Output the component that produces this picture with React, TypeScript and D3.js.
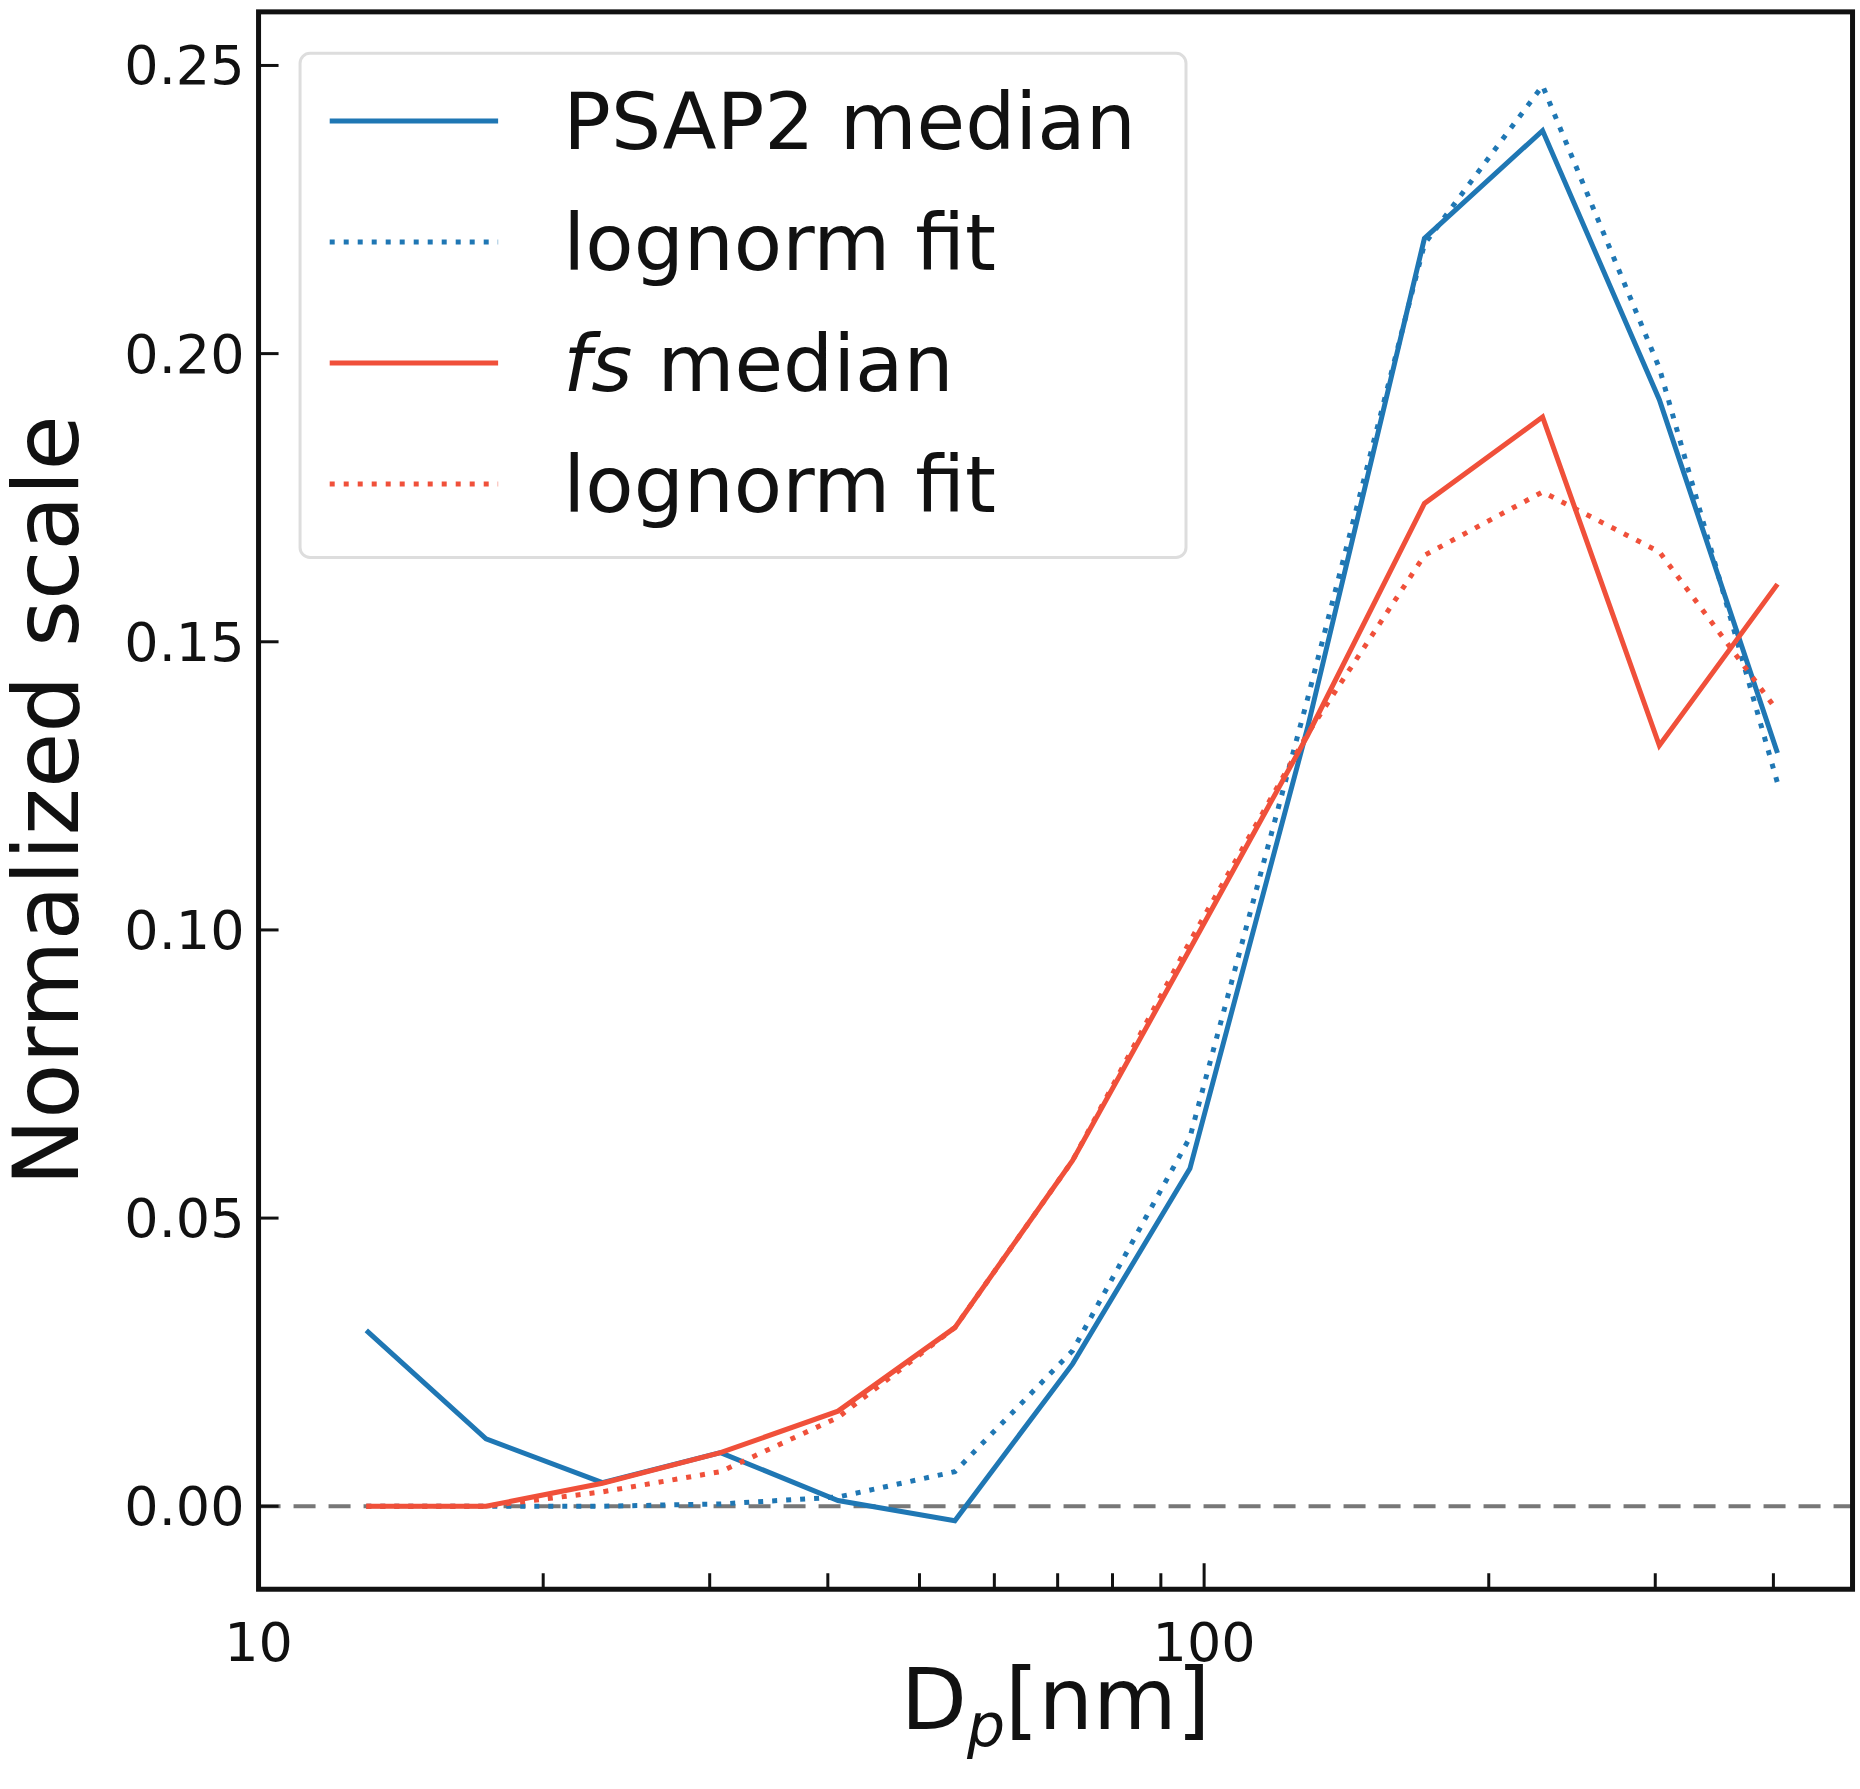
import { scaleLinear, scaleLog, line } from 'd3';

const diameters = [13.0, 17.4, 23.1, 30.8, 41.0, 54.5, 72.6, 96.6, 128.6, 171, 228, 303, 404];
const psapMedian = [0.0305, 0.0117, 0.0041, 0.0093, 0.001, -0.0025, 0.0247, 0.0586, 0.135, 0.22, 0.2387, 0.192, 0.1307];
const psapFit = [0, 0, 0, 0.0004, 0.0016, 0.006, 0.027, 0.064, 0.14, 0.219, 0.2465, 0.1975, 0.1255];
const fsMedian = [0, 0, 0.004, 0.0093, 0.0165, 0.031, 0.06, 0.0967, 0.1337, 0.174, 0.189, 0.132, 0.16];
const fsFit = [0, 0, 0.0025, 0.006, 0.0154, 0.031, 0.06, 0.098, 0.134, 0.165, 0.176, 0.1656, 0.138];
const yTicks = [0, 0.05, 0.1, 0.15, 0.2, 0.25];
const xMajor = [10, 100];
const xMinor = [20, 30, 40, 50, 60, 70, 80, 90, 200, 300, 400];

const BLUE = '#1f77b4';
const RED = '#f0503a';
const k = 1.186;

export default function App() {
  const W = 1860, H = 1789;
  const left = 218 * k, right = 1562 * k, top = 10 * k, bottom = 1340 * k;
  const x = scaleLog().domain([10, 485]).range([left, right]);
  const y = scaleLinear().domain([-0.0144, 0.2593]).range([bottom, top]);
  const mk = (vals: number[]) =>
    line<number>().x((_, i) => x(diameters[i])).y((d) => y(d))(vals) ?? '';
  const font = 'DejaVu Sans, sans-serif';
  const series = [
    { label: 'PSAP2 median', vals: psapMedian, color: BLUE, dash: undefined },
    { label: 'lognorm fit', vals: psapFit, color: BLUE, dash: '5 9' },
    { label: 'fs median', vals: fsMedian, color: RED, dash: undefined },
    { label: 'lognorm fit', vals: fsFit, color: RED, dash: '5 9' },
  ];
  return (
    <svg width={W} height={H} style={{ position: 'absolute', left: 0, top: 0, background: '#fff' }} fontFamily={font}>
      <line x1={left} x2={right} y1={y(0)} y2={y(0)} stroke="#777" strokeWidth={4} strokeDasharray="22 13" />
      {series.map((s, i) => (
        <path key={i} d={mk(s.vals)} fill="none" stroke={s.color} strokeWidth={5} strokeDasharray={s.dash} />
      ))}
      <rect x={left} y={top} width={right - left} height={bottom - top} fill="none" stroke="#111" strokeWidth={5} />
      {yTicks.map((t) => (
        <g key={t}>
          <line x1={left} x2={left + 20} y1={y(t)} y2={y(t)} stroke="#111" strokeWidth={3} />
          <text x={left - 14} y={y(t)} dy="0.35em" textAnchor="end" fontSize={54} fill="#111">{t.toFixed(2)}</text>
        </g>
      ))}
      {xMajor.map((t) => (
        <g key={t}>
          <line x1={x(t)} x2={x(t)} y1={bottom} y2={bottom - 26} stroke="#111" strokeWidth={3} />
          <text x={x(t)} y={bottom + 72} textAnchor="middle" fontSize={54} fill="#111">{t}</text>
        </g>
      ))}
      {xMinor.map((t) => (
        <line key={t} x1={x(t)} x2={x(t)} y1={bottom} y2={bottom - 16} stroke="#111" strokeWidth={3} />
      ))}
      <text x={(left + right) / 2} y={bottom + 140} textAnchor="middle" fontSize={86} fill="#111">
        D<tspan fontStyle="italic" fontSize={60} dy={18}>p</tspan><tspan dy={-18}>[nm]</tspan>
      </text>
      <text transform={`translate(${78}, ${(top + bottom) / 2}) rotate(-90)`} textAnchor="middle" fontSize={90} fill="#111">
        Normalized scale
      </text>
      <rect x={253 * k} y={45 * k} width={747 * k} height={425 * k} rx={10} fill="#fff" fillOpacity={0.85} stroke="#ddd" strokeWidth={3} />
      {series.map((s, i) => {
        const ly = (102 + i * 102) * k;
        return (
          <g key={i}>
            <line x1={278 * k} x2={420 * k} y1={ly} y2={ly} stroke={s.color} strokeWidth={5} strokeDasharray={s.dash} />
            <text x={475 * k} y={ly} dy="0.35em" fontSize={79} fill="#111">
              {i === 2 ? (<><tspan fontStyle="italic">fs</tspan> median</>) : s.label}
            </text>
          </g>
        );
      })}
    </svg>
  );
}
